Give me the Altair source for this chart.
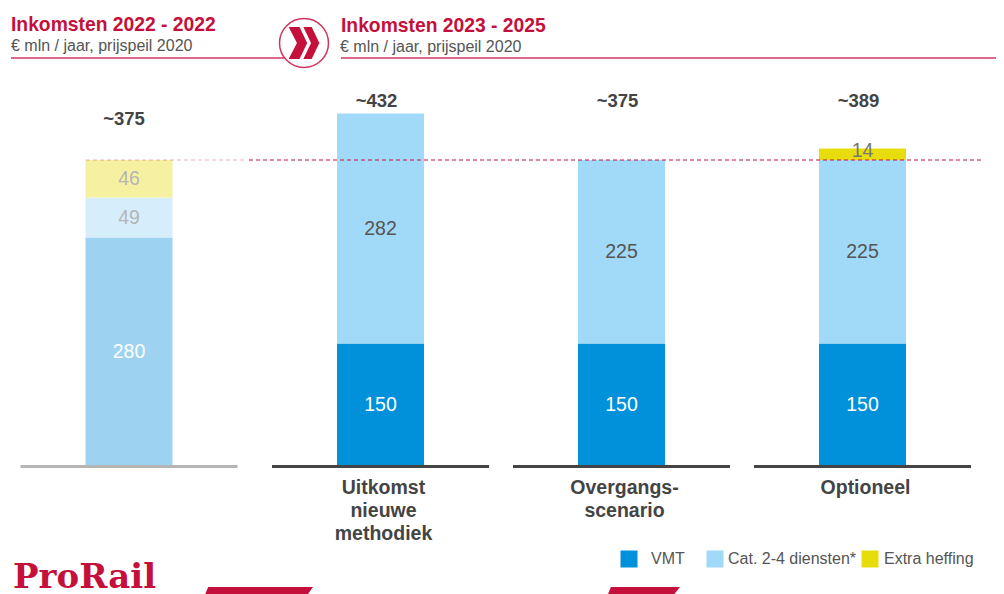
import altair as alt
import pandas as pd

# --- data -------------------------------------------------------------
series_names = ["VMT", "Cat. 2-4 diensten*", "Extra heffing"]
base_name = "2022"
scenario_names = ["Uitkomst|nieuwe|methodiek", "Overgangs-|scenario", "Optioneel"]
vmt_values = [150, 150, 150]
cat_values = [282, 225, 225]
extra_values = [0, 0, 14]
total_labels = ["~432", "~375", "~389"]

base_series = ["Basis", "Cat. 2-4", "Heffing"]
base_values = [280, 49, 46]
base_total_label = "~375"
reference_level = 375

header_left = "Inkomsten 2022 - 2022"
header_right = "Inkomsten 2023 - 2025"
header_sub = "€ mln / jaar, prijspeil 2020"
logo_text = "ProRail"

# --- style ------------------------------------------------------------
CRIMSON = "#C4103B"
LINE = "#D0355F"
DARK = "#444444"
FONT = "Liberation Sans"
PLOT_H = 408
W = 988
LEFT_SHIFT = -10.5
all_cats = [base_name] + scenario_names
Y = alt.Scale(domain=[0, 500], range=[PLOT_H, 0])
X = alt.Scale(domain=all_cats, range=[11, 975], paddingInner=0, paddingOuter=0)
COLOR_SCALE = alt.Scale(domain=series_names, range=["#0091DA", "#A1D9F8", "#E8DD0C"])


def stacked(cat_list, series_lists, names):
    rows = []
    for i, c in enumerate(cat_list):
        start = 0
        for s, vals in zip(names, series_lists):
            v = vals[i]
            if v:
                rows.append(dict(cat=c, series=s, value=v, start=start,
                                 end=start + v, mid=start + v / 2))
            start += v
    return pd.DataFrame(rows)


one = pd.DataFrame({"a": [0]})
level = pd.DataFrame({"level": [reference_level]})
dfa = stacked([base_name], [[v] for v in base_values], base_series)
dfb = stacked(scenario_names, [vmt_values, cat_values, extra_values], series_names)

x_axis = alt.Axis(title=None, domain=False, ticks=False, labelAngle=0,
                  labelExpr="datum.value == '2022' ? '' : split(datum.value,'|')",
                  labelFont=FONT, labelFontSize=19.5, labelFontWeight="bold",
                  labelColor=DARK, labelLineHeight=23, labelPadding=12, labelLimit=300,
                  labelOffset=3)
xf = alt.X("cat:N", sort=all_cats, scale=X, axis=x_axis)


def seg_text(df, names, color, **kw):
    return alt.Chart(df[df["series"].isin(names)]).mark_text(
        font=FONT, fontSize=19.5, color=color, **kw
    ).encode(x=xf, y=alt.Y("mid:Q", scale=Y, axis=None), text="value:Q")


def deco_text(text, x, y, font=FONT, **kw):
    return alt.Chart(one).mark_text(font=font, **kw).encode(
        x=alt.value(x), y=alt.value(y), text=alt.value(text)
    )


def hrule(x1, x2, y, color, width):
    return alt.Chart(one).mark_rule(color=color, strokeWidth=width).encode(
        x=alt.value(x1), x2=alt.value(x2), y=alt.value(y)
    )


def ref_rule(x1, x2, opacity):
    return alt.Chart(level).mark_rule(color=CRIMSON, strokeDash=[4, 3], strokeWidth=1,
                                      opacity=opacity).encode(
        x=alt.value(x1), x2=alt.value(x2), y=alt.Y("level:Q", scale=Y, axis=None)
    )


def shape(path, size, x, y, **kw):
    return alt.Chart(one).mark_point(shape=path, size=size, filled=True, opacity=1, **kw).encode(
        x=alt.value(x), y=alt.value(y)
    )


# left (faded) bar
faded = {"Basis": "#9DD3F1", "Cat. 2-4": "#D6EEFB", "Heffing": "#F6F1A1"}
left_bars = [
    alt.Chart(dfa[dfa["series"] == s]).mark_bar(size=87, color=c, xOffset=LEFT_SHIFT).encode(
        x=xf, y=alt.Y("start:Q", scale=Y, axis=None), y2="end:Q"
    )
    for s, c in faded.items()
]
base_left = alt.Chart(pd.DataFrame({"cat": [base_name]})).mark_bar(
    size=217, color="#B5B5B5", xOffset=LEFT_SHIFT
).encode(x=xf, y=alt.value(PLOT_H - 1), y2=alt.value(PLOT_H + 2))

# scenario bars
bars = alt.Chart(dfb).mark_bar(size=87).encode(
    x=xf,
    y=alt.Y("start:Q", scale=Y, axis=None),
    y2="end:Q",
    color=alt.Color("series:N", scale=COLOR_SCALE, legend=None),
)
base_right = alt.Chart(pd.DataFrame({"cat": scenario_names})).mark_bar(size=217, color=DARK).encode(
    x=xf, y=alt.value(PLOT_H - 1), y2=alt.value(PLOT_H + 2)
)
totals = alt.Chart(pd.DataFrame({"cat": scenario_names, "t": total_labels})).mark_text(
    font=FONT, fontSize=18.5, fontWeight="bold", color=DARK, xOffset=-4
).encode(x=xf, y=alt.value(43), text="t:N")

# legend, laid out by hand to keep the reference's uneven spacing
legend_swatch_x = [621, 707, 862]
legend_label_x = [643, 720, 876]
legend_layers = []
for name, sx, lx in zip(series_names, legend_swatch_x, legend_label_x):
    row = pd.DataFrame({"series": [name]})
    legend_layers.append(
        alt.Chart(row).mark_point(shape="square", filled=True, size=289, opacity=1).encode(
            x=alt.value(sx), y=alt.value(501),
            color=alt.Color("series:N", scale=COLOR_SCALE, legend=None),
        )
    )
    legend_layers.append(
        alt.Chart(row).mark_text(font=FONT, fontSize=16, color="#555555", align="left").encode(
            x=alt.value(lx), y=alt.value(501), text="series:N"
        )
    )

chart = alt.layer(
    *left_bars, base_left, bars, base_right,
    ref_rule(78, 237, 0.35), ref_rule(241, 976, 1),
    seg_text(dfa, ["Basis"], "white", xOffset=LEFT_SHIFT),
    seg_text(dfa, ["Cat. 2-4", "Heffing"], "#B5B5B5", xOffset=LEFT_SHIFT),
    seg_text(dfb, ["VMT"], "white"),
    seg_text(dfb, ["Cat. 2-4 diensten*"], "#555555"),
    seg_text(dfb, ["Extra heffing"], "#777777", dy=-3),
    deco_text(base_total_label, 116, 61, fontSize=18.5, fontWeight="bold", color=DARK),
    totals,
    hrule(3, 277, 0, LINE, 1.5),
    hrule(333, 988, 0, LINE, 1.5),
    deco_text(header_left, 3, -33, fontSize=19.3, fontWeight="bold", color=CRIMSON, align="left"),
    deco_text(header_sub, 3, -12, fontSize=16, color="#555555", align="left"),
    deco_text(header_right, 333, -32, fontSize=19.3, fontWeight="bold", color=CRIMSON, align="left"),
    deco_text(header_sub, 332, -11, fontSize=16, color="#555555", align="left"),
    shape("circle", 2400, 296, -15, fill="white", stroke=LINE, strokeWidth=1.5),
    shape("M-.48,-.5L-.14,-.5L.1,0L-.14,.5L-.48,.5L-.22,0Z"
          "M-.02,-.5L.24,-.5L.48,0L.24,.5L-.02,.5L.22,0Z", 64 * 64, 296, -15, color=CRIMSON),
    deco_text(logo_text, 5, 520, font="DejaVu Serif", fontSize=34, fontWeight="bold",
              color=CRIMSON, align="left"),
    shape("M-.47,0L.5,0L.45,.07L-.5,.07Z", 216 * 216, 251, 529, color=CRIMSON),
    shape("M-.46,0L.5,0L.42,.1L-.5,.1Z", 144 * 144, 636, 529, color=CRIMSON),
    *legend_layers,
).properties(
    width=W, height=PLOT_H,
    autosize=alt.AutoSizeParams(type="none"),
    padding={"left": 0, "top": 50, "right": 0, "bottom": 128},
    background="white",
).configure_view(stroke=None)

chart.save("out.html", embed_options={"renderer": "svg", "actions": False})
